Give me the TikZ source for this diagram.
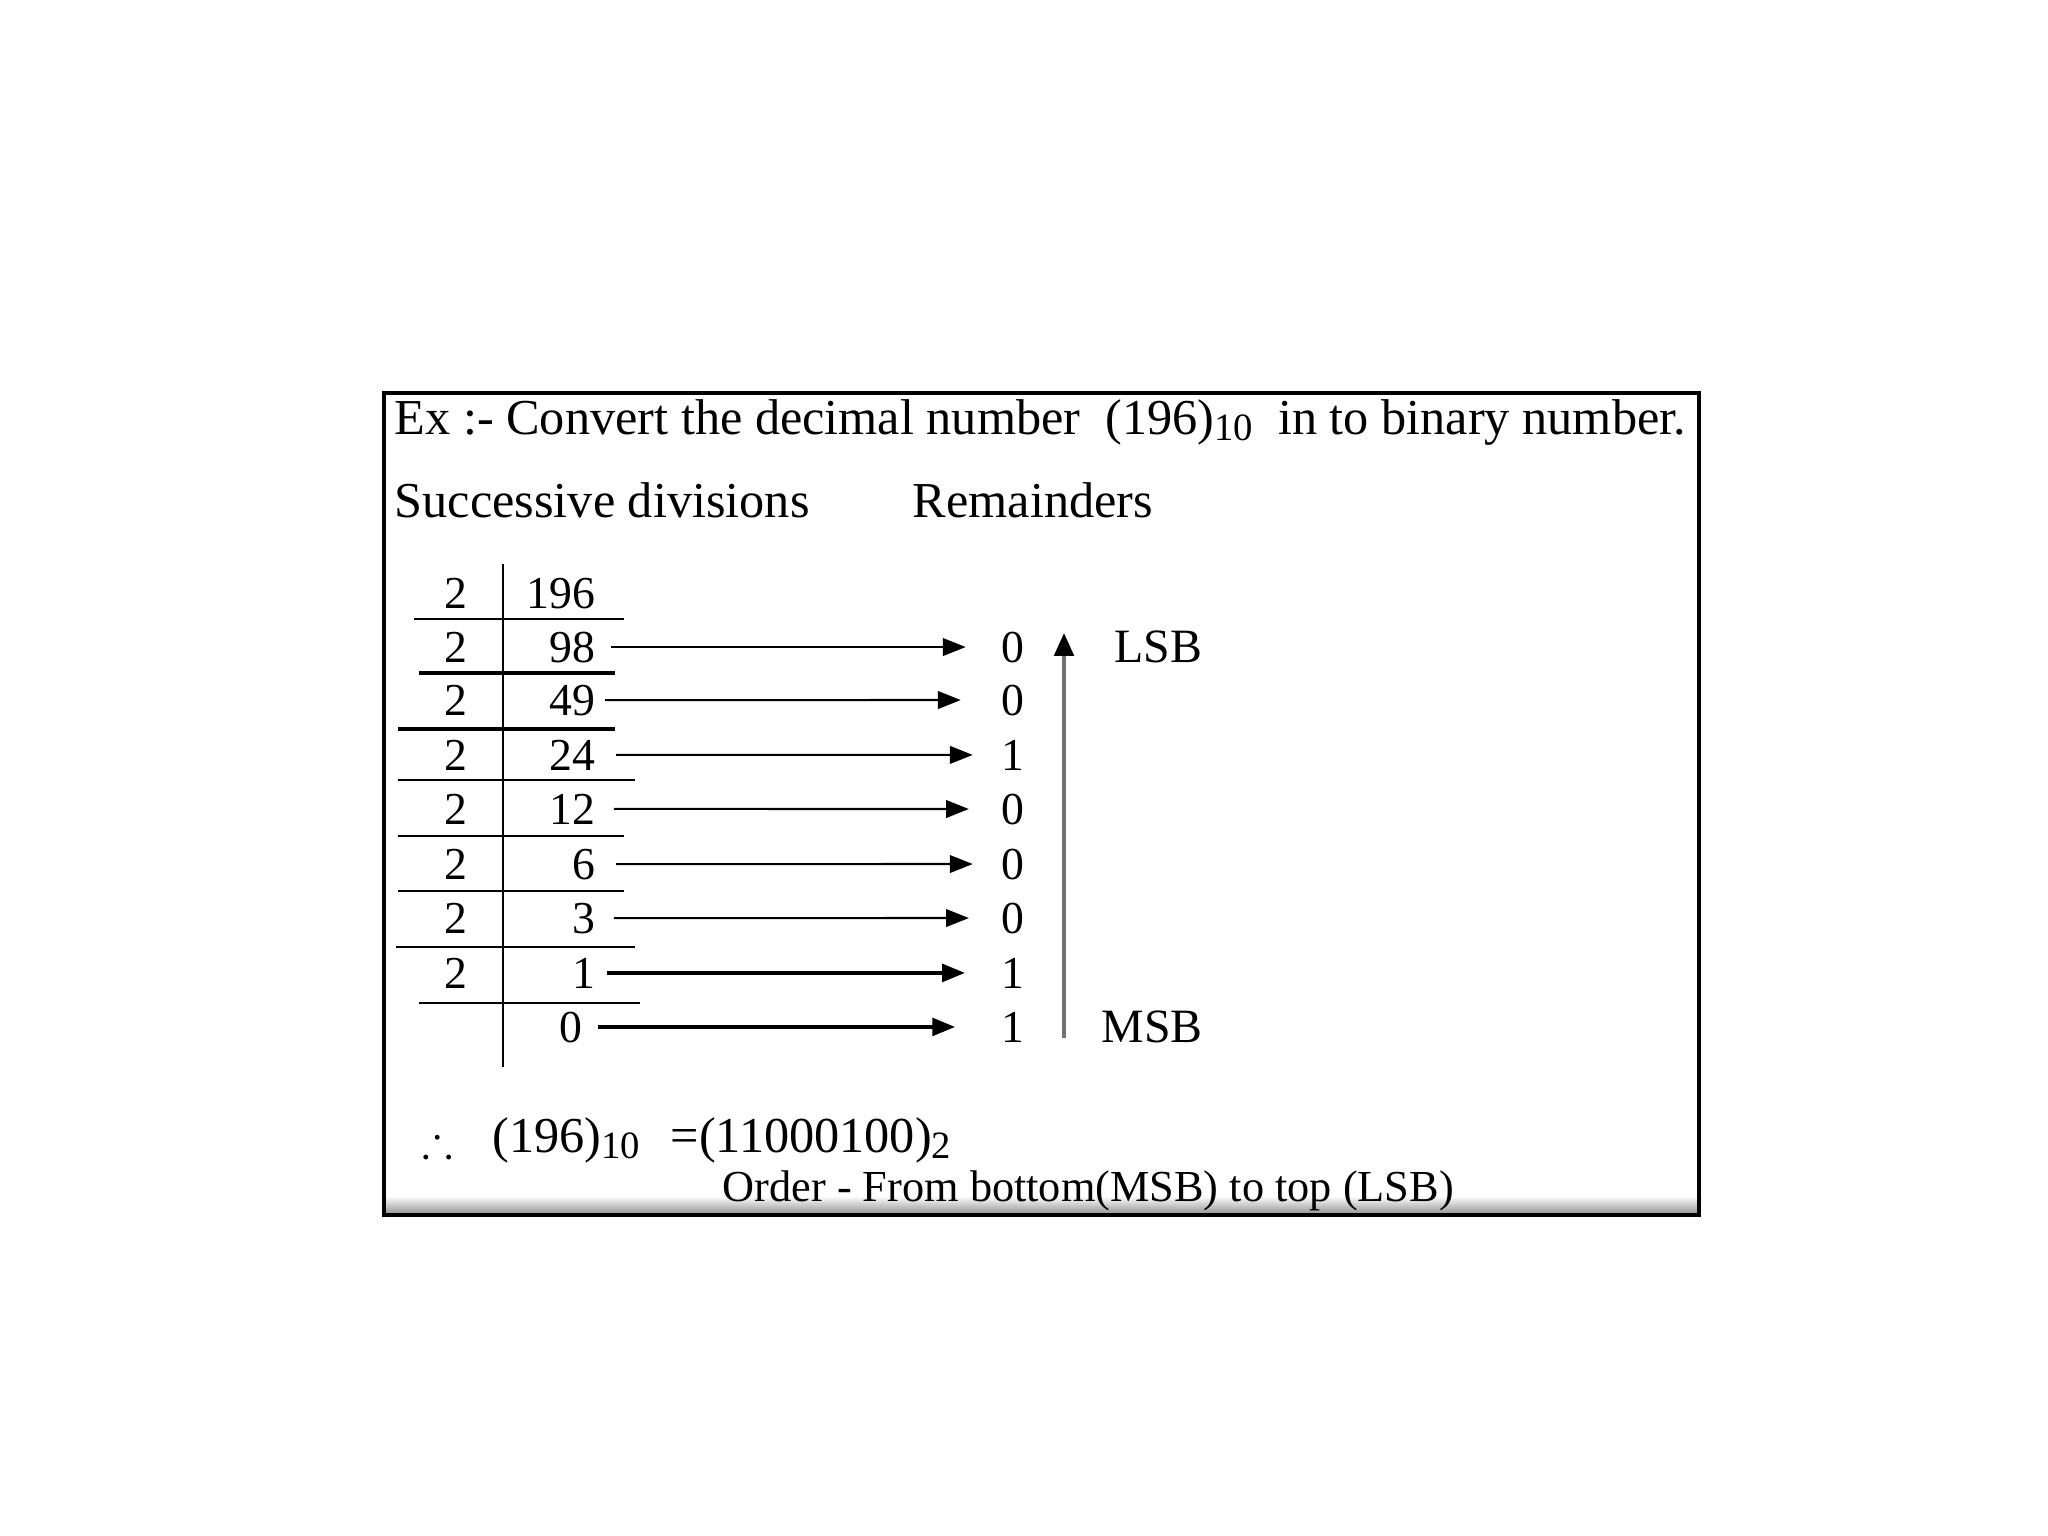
\documentclass[tikz,border=0pt]{standalone}
\usepackage{fontspec}
\setmainfont{Liberation Serif}
\usepackage{amssymb}
\usetikzlibrary{arrows.meta}
\newcommand{\basesub}[1]{\raisebox{-0.3ex}{\fontsize{11}{11}\selectfont #1}}
\tikzset{
  txt/.style={inner sep=0pt,font=\fontsize{13}{13}\selectfont},
  label/.style={inner sep=0pt,font=\fontsize{14.3}{14.3}\selectfont},
  small/.style={inner sep=0pt,font=\fontsize{12.6}{12.6}\selectfont},
  remarrow/.style={-{Triangle[length=6.5pt,width=5pt]}},
  orderarrow/.style={line width=1.1pt,black!55,-{Triangle[length=6.5pt,width=5.5pt,color=black]}}
}
\begin{document}
\begin{tikzpicture}[x=0.01cm,y=-0.01cm]
  \useasboundingbox (0,0) rectangle (2048,1536);
  % frame
  \shade[top color=white,bottom color=black!40] (386,1196) rectangle (1697,1213);
  \draw[line width=1.4pt] (384,393) rectangle (1699,1215);
  % headings
  \node[label,anchor=base west] (title) at (394,434)
    {Ex :- Convert the decimal number\ \ (196)\basesub{10}\ \ in to binary number.};
  \node[label,anchor=base west] (succ) at (394,517) {Successive divisions};
  \node[label,anchor=base west] (rems) at (912,517) {Remainders};
  % successive divisions
  \draw[line width=0.7pt] (503,564) -- (503,1067);
  \foreach \i/\num/\yb in {0/196/608, 1/98/662, 2/49/715, 3/24/770,
    4/12/824, 5/6/879, 6/3/933, 7/1/988}
  {
    \node[txt,anchor=base] (d\i) at (456,\yb) {2};
    \node[txt,anchor=base east] (q\i) at (596,\yb) {\num};
  }
  \node[txt,anchor=base east] (q8) at (583,1042) {0};
  \foreach \y/\xa/\xb/\w in {619/414/624/0.6, 673/419/615/0.9,
    729/398/615/0.9, 780/398/635/0.6, 836/398/624/0.6,
    891/398/624/0.6, 947/396/635/0.6, 1003/419/640/0.6}
    \draw[line width=\w pt] (\xa,\y) -- (\xb,\y);
  % remainders
  \foreach \i/\rem/\yb/\s/\e/\w in {1/0/662/4.3pt/10pt/0.6,
    2/0/715/2.6pt/11.4pt/0.6, 3/1/770/5.7pt/8pt/0.6,
    4/0/824/5.1pt/9.1pt/0.6, 5/0/879/5.7pt/8pt/0.6,
    6/0/933/5.1pt/9.1pt/0.6, 7/1/988/3.1pt/10.2pt/1.1,
    8/1/1042/4.3pt/13pt/1.1}
  {
    \node[txt,anchor=base] (r\i) at (1013,\yb) {\rem};
    \draw[remarrow,line width=\w pt,shorten <=\s,shorten >=\e]
      (q\i.east) -- (r\i.west);
  }
  \coordinate (upfoot) at (1064,1038);
  \coordinate (uptip) at (1064,633);
  \draw[orderarrow] (upfoot) -- (uptip);
  \node[label,anchor=base west,font=\fontsize{13.6}{13.6}\selectfont] (lsb) at (1114,662) {LSB};
  \node[label,anchor=base west,font=\fontsize{13.6}{13.6}\selectfont] (msb) at (1101,1042) {MSB};
  % result
  \node[txt] (therefore) at (438,1141) {$\therefore$};
  \node[label,anchor=base west] (dec) at (492,1152) {(196)\basesub{10}};
  \node[label,anchor=base west] (bin) at (670,1152) {=(11000100)\basesub{2}};
  \node[small,anchor=base west] (order) at (722,1201)
    {Order - From bottom(MSB) to top (LSB)};
\end{tikzpicture}
\end{document}
